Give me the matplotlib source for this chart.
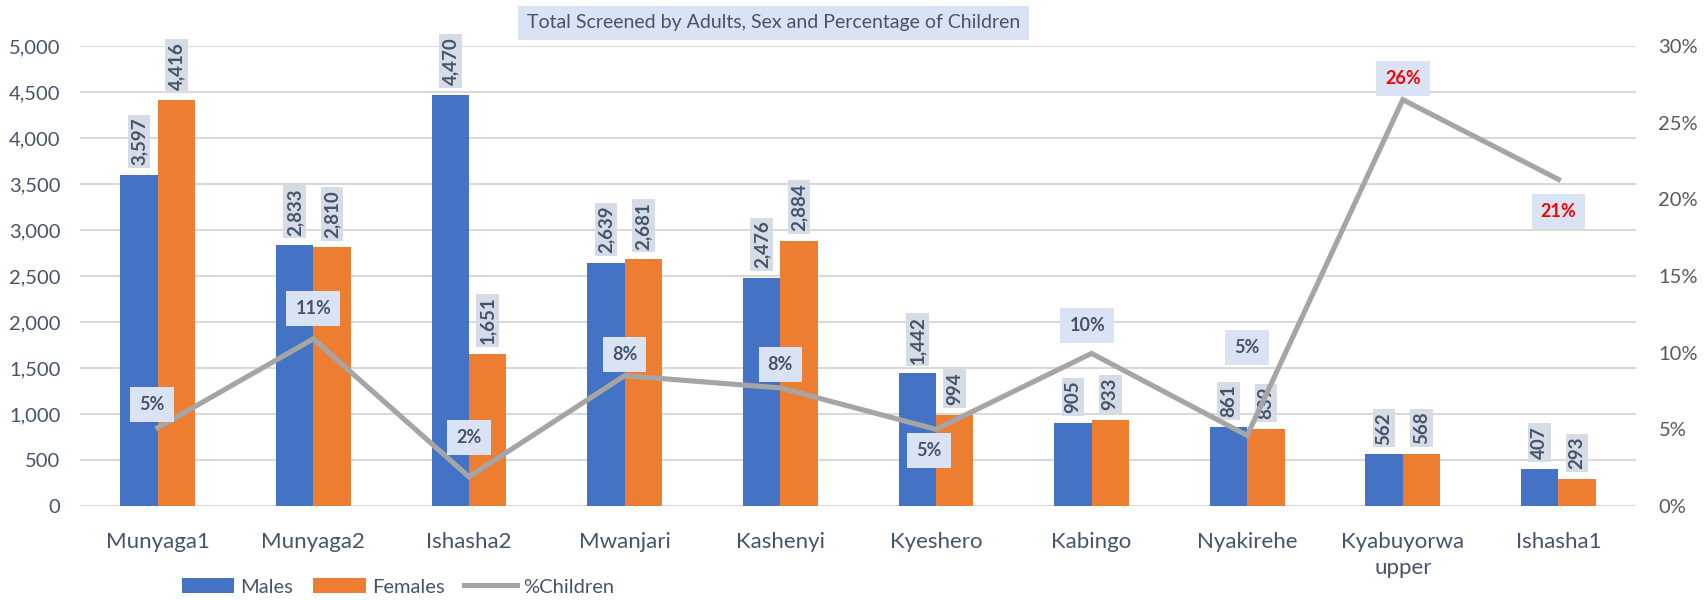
import numpy as np
import matplotlib.pyplot as plt
from matplotlib.ticker import FuncFormatter

plt.rcParams['font.family'] = ['Lato', 'DejaVu Sans']

sites = ['Munyaga1', 'Munyaga2', 'Ishasha2', 'Mwanjari', 'Kashenyi', 'Kyeshero',
         'Kabingo', 'Nyakirehe', 'Kyabuyorwa\nupper', 'Ishasha1']
males = [3597, 2833, 4470, 2639, 2476, 1442, 905, 861, 562, 407]
females = [4416, 2810, 1651, 2681, 2884, 994, 933, 839, 568, 293]
pct_children = [5.1, 10.9, 1.9, 8.5, 7.7, 5.0, 9.95, 4.6, 26.5, 21.3]
pct_labels = ['5%', '11%', '2%', '8%', '8%', '5%', '10%', '5%', '26%', '21%']
# label offsets in points (dx, dy) relative to each line point
pct_offsets = [(-4, 16.5), (0, 22), (0, 28), (0, 15), (0, 17), (-5, -15),
               (-3, 20), (0, 63), (0, 15), (0, -23)]
pct_colors = ['#44546A'] * 8 + ['#FF0000', '#FF0000']

blue = '#4472C4'
orange = '#ED7D31'
grey = '#A5A5A5'
txt = '#44546A'

x = np.arange(len(sites))
w = 0.24

fig = plt.figure(figsize=(17.08, 6), dpi=100)
ax = fig.add_axes([0.0468, 0.1567, 0.9112, 0.7666])

b1 = ax.bar(x - w / 2, males, w, color=blue, label='Males', zorder=2)
b2 = ax.bar(x + w / 2, females, w, color=orange, label='Females', zorder=2)

ax.set_ylim(0, 5000)
ax.set_xlim(-0.5, len(sites) - 0.5)
ax.set_yticks(np.arange(0, 5001, 500))
ax.yaxis.set_major_formatter(FuncFormatter(lambda v, p: f'{int(v):,}'))
ax.grid(axis='y', color='#D9D9D9', lw=1.5, zorder=0)
ax.set_axisbelow(True)
for s in ax.spines.values():
    s.set_visible(False)
ax.tick_params(axis='y', length=0, labelsize=14.5, labelcolor=txt, pad=14)
ax.tick_params(axis='x', length=0, labelsize=16, labelcolor=txt, pad=19)
ax.set_xticks(x)
ax.set_xticklabels(sites, linespacing=1.35)

for bars, vals in ((b1, males), (b2, females)):
    for rect, v in zip(bars, vals):
        ax.annotate(f'{v:,}', (rect.get_x() + rect.get_width() / 2, v),
                    xytext=(0, 7), textcoords='offset points', rotation=90,
                    ha='center', va='bottom', fontsize=13.5, fontweight='bold',
                    color=txt, zorder=3,
                    bbox=dict(boxstyle='square,pad=0.15', fc='#D6DCE5', ec='none'))

ax2 = ax.twinx()
ax2.set_ylim(0, 30)
ax2.set_yticks(np.arange(0, 31, 5))
ax2.yaxis.set_major_formatter(FuncFormatter(lambda v, p: f'{int(v)}%'))
for s in ax2.spines.values():
    s.set_visible(False)
ax2.tick_params(axis='y', length=0, labelsize=14.5, labelcolor='#595959', pad=16)
line, = ax2.plot(x, pct_children, color=grey, lw=3.7, label='%Children',
                 solid_joinstyle='miter', zorder=4)

for xi, yi, lab, off, c in zip(x, pct_children, pct_labels, pct_offsets, pct_colors):
    ax2.annotate(lab, (xi, yi), xytext=off, textcoords='offset points',
                 ha='center', va='center', fontsize=13, fontweight='bold',
                 color=c, zorder=5,
                 bbox=dict(boxstyle='square,pad=0.5', fc='#DAE3F3', ec='none'))

fig.text(0.453, 0.962, 'Total Screened by Adults, Sex and Percentage of Children',
         ha='center', va='center', fontsize=14, color=txt,
         bbox=dict(boxstyle='square,pad=0.45', fc='#DAE3F3', ec='none'))

fig.legend(handles=[b1, b2, line], loc='center', bbox_to_anchor=(0.233, 0.022),
           ncol=3, frameon=False, fontsize=14.5, labelcolor=txt,
           handlelength=2.6, handleheight=0.8, columnspacing=1.0, handletextpad=0.3)

fig.savefig('out.png', dpi=100)
